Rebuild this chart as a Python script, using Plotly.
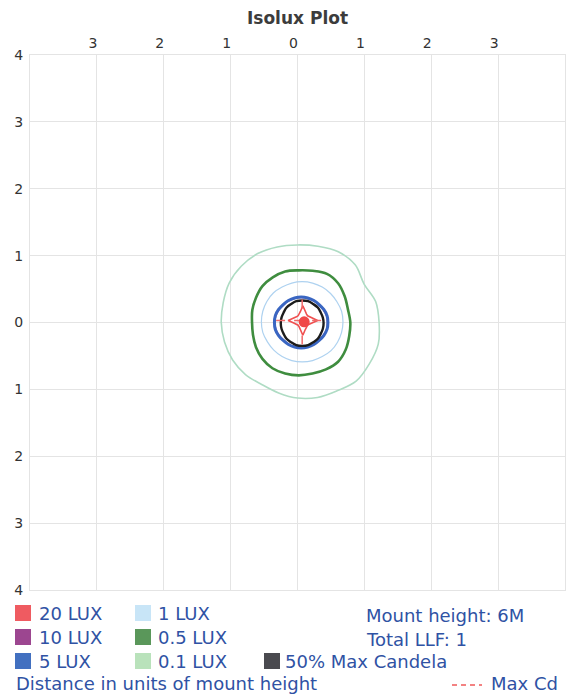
import numpy as np
import plotly.graph_objects as go

# ---------------- data (units of mount height) ----------------
angles_deg = [0, 15, 30, 45, 60, 75, 90, 105, 120, 135, 150, 165,
              180, 195, 210, 225, 240, 255, 270, 285, 300, 315, 330, 345]

lux01_center = (0.0, 0.0)
lux01_radii = [1.22, 1.21, 1.15, 1.22, 1.22, 1.18, 1.16, 1.17, 1.19, 1.19, 1.18, 1.15,
               1.14, 1.13, 1.12, 1.10, 1.07, 1.09, 1.13, 1.16, 1.18, 1.24, 1.24, 1.25]

lux05_center = (0.02, 0.0)
lux05_radii = [0.77, 0.76, 0.79, 0.83, 0.84, 0.80, 0.78, 0.79, 0.78, 0.77, 0.74, 0.72,
               0.70, 0.71, 0.74, 0.77, 0.79, 0.79, 0.79, 0.79, 0.81, 0.83, 0.81, 0.78]

lux1_center = (0.07, 0.01)
lux1_radii = [0.61, 0.61, 0.60, 0.60, 0.60, 0.60, 0.60, 0.60, 0.60, 0.61, 0.61, 0.61,
              0.61, 0.61, 0.60, 0.60, 0.60, 0.60, 0.60, 0.60, 0.60, 0.61, 0.61, 0.61]

lux5_center = (0.055, 0.0)
lux5_radii = [0.40, 0.40, 0.39, 0.38, 0.38, 0.38, 0.38, 0.38, 0.38, 0.38, 0.39, 0.40,
              0.40, 0.40, 0.39, 0.38, 0.38, 0.38, 0.38, 0.38, 0.38, 0.38, 0.39, 0.40]

lux10_center = (0.055, 0.0)
lux10_radii = [0.39, 0.39, 0.38, 0.37, 0.37, 0.37, 0.37, 0.37, 0.37, 0.37, 0.38, 0.39,
               0.39, 0.39, 0.38, 0.37, 0.37, 0.37, 0.37, 0.37, 0.37, 0.37, 0.38, 0.39]

cand50_center = (0.07, -0.01)
cand50_radii = [0.32, 0.32, 0.32, 0.33, 0.33, 0.34, 0.34, 0.34, 0.33, 0.33, 0.32, 0.32,
                0.32, 0.32, 0.32, 0.33, 0.33, 0.34, 0.34, 0.34, 0.33, 0.33, 0.32, 0.32]

lux20_center = (0.08, 0.03)
lux20_radii = [0.22, 0.14, 0.11, 0.10, 0.11, 0.14, 0.22, 0.14, 0.11, 0.10, 0.11, 0.14,
               0.22, 0.14, 0.11, 0.10, 0.11, 0.14, 0.22, 0.14, 0.11, 0.10, 0.11, 0.14]

peak_point = (0.10, 0.01)

maxcd_h_x = [-0.32, 0.45]
maxcd_h_y = [0.03, 0.03]
maxcd_v_x = [0.07, 0.07]
maxcd_v_y = [-0.33, 0.42]

x_tick_vals = [-3, -2, -1, 0, 1, 2, 3]
x_tick_text = ["3", "2", "1", "0", "1", "2", "3"]
y_tick_vals = [-4, -3, -2, -1, 0, 1, 2, 3, 4]
y_tick_text = ["4", "3", "2", "1", "0", "1", "2", "3", "4"]

legend_labels = ["20 LUX", "10 LUX", "5 LUX", "1 LUX", "0.5 LUX", "0.1 LUX", "50% Max Candela"]
legend_colors = ["#ef5b61", "#9c4690", "#4270c0", "#c8e5f7", "#5a975a", "#b9e2bb", "#4a4a4f"]

info_lines = ["Mount height: 6M", "Total LLF: 1"]
footer_text = "Distance in units of mount height"
maxcd_label = "Max Cd"


# ---------------- helpers ----------------
def ring(center, radii, closed=True):
    a = np.radians(angles_deg)
    r = np.array(radii)
    x = center[0] + r * np.cos(a)
    y = center[1] + r * np.sin(a)
    if closed:
        x = np.append(x, x[0])
        y = np.append(y, y[0])
    return x, y


fig = go.Figure()


def add_ring(center, radii, color, width, shape="spline", dash="solid"):
    x, y = ring(center, radii)
    line = dict(color=color, width=width, shape=shape, dash=dash)
    if shape == "spline":
        line["smoothing"] = 1.0
    fig.add_trace(go.Scatter(x=x, y=y, mode="lines", line=line,
                             hoverinfo="skip", showlegend=False))


add_ring(lux01_center, lux01_radii, "#afdcc4", 1.6)
add_ring(lux05_center, lux05_radii, "#3f8d3f", 2.6)
add_ring(lux1_center, lux1_radii, "#aed2f0", 1.2)
add_ring(lux10_center, lux10_radii, "#9c4690", 1.2)
add_ring(lux5_center, lux5_radii, "#3a66c2", 3.0)
add_ring(cand50_center, cand50_radii, "#1c1c1c", 2.4)
add_ring(lux20_center, lux20_radii, "#f05050", 1.6, shape="linear")

fig.add_trace(go.Scatter(x=maxcd_h_x, y=maxcd_h_y, mode="lines",
                         line=dict(color="#f06a6a", width=1.5, dash="dash"),
                         hoverinfo="skip", showlegend=False))
fig.add_trace(go.Scatter(x=maxcd_v_x, y=maxcd_v_y, mode="lines",
                         line=dict(color="#f06a6a", width=1.5, dash="dash"),
                         hoverinfo="skip", showlegend=False))
fig.add_trace(go.Scatter(x=[peak_point[0]], y=[peak_point[1]], mode="markers",
                         marker=dict(color="#f04848", size=11, line=dict(width=0)),
                         hoverinfo="skip", showlegend=False))

# ---------------- layout ----------------
W, H = 568, 699
L, R, T, B = 30, 565, 55, 590


def px(x):
    return (x - L) / (R - L)


def py(y):
    return (B - y) / (B - T)


grid_col = "#e4e4e4"
fig.update_layout(
    width=W, height=H,
    margin=dict(l=L, r=W - R, t=T, b=H - B, pad=0, autoexpand=False),
    paper_bgcolor="white", plot_bgcolor="white",
    showlegend=False,
    title=dict(text="Isolux Plot", x=0.5, xref="paper", y=1 - 18 / H, yref="container",
               xanchor="center", yanchor="middle",
               font=dict(family="DejaVu Sans", size=17, color="#3c3c3c", weight="bold")),
    xaxis=dict(range=[-4, 4], side="top", tickvals=x_tick_vals, ticktext=x_tick_text,
               showgrid=True, gridcolor=grid_col, gridwidth=1, zeroline=False,
               showline=True, linecolor=grid_col, mirror=True, ticks="",
               ticklabelshift=-4, ticklabelstandoff=0, automargin=False,
               tickfont=dict(family="DejaVu Sans", size=14, color="#333333"),
               fixedrange=True),
    yaxis=dict(range=[-4, 4], tickvals=y_tick_vals, ticktext=y_tick_text,
               showgrid=True, gridcolor=grid_col, gridwidth=1, zeroline=False,
               showline=True, linecolor=grid_col, mirror=True, ticks="",
               ticklabelstandoff=3, automargin=False,
               tickfont=dict(family="DejaVu Sans", size=14, color="#333333"),
               fixedrange=True),
)

# ---------------- custom legend ----------------
txt_col = "#2f52a4"
txt_font = dict(family="DejaVu Sans", size=18, color=txt_col)
row_y = [613, 637, 661]
col_sq = [(15, 31), (135, 151), (264, 280)]
col_tx = [37, 156, 283]
slots = [(0, 0), (0, 1), (0, 2), (1, 0), (1, 1), (1, 2), (2, 2)]

shapes = []
annos = []
for label, color, (c, r) in zip(legend_labels, legend_colors, slots):
    x0, x1 = col_sq[c]
    yc = row_y[r]
    shapes.append(dict(type="rect", xref="paper", yref="paper",
                       x0=px(x0), x1=px(x1), y0=py(yc + 8), y1=py(yc - 8),
                       fillcolor=color, line=dict(width=0)))
    annos.append(dict(text=label, xref="paper", yref="paper", x=px(col_tx[c]), y=py(yc),
                      xanchor="left", yanchor="middle", showarrow=False, font=txt_font))

for i, line in enumerate(info_lines):
    annos.append(dict(text=line, xref="paper", yref="paper", x=px(364), y=py(row_y[i] + 2),
                      xanchor="left", yanchor="middle", showarrow=False, font=txt_font))

annos.append(dict(text=footer_text, xref="paper", yref="paper", x=px(14), y=py(684),
                  xanchor="left", yanchor="middle", showarrow=False, font=txt_font))
shapes.append(dict(type="line", xref="paper", yref="paper", x0=px(452), x1=px(482),
                   y0=py(685), y1=py(685),
                   line=dict(color="#f05a5a", width=1.5, dash="5px,4px")))
annos.append(dict(text=maxcd_label, xref="paper", yref="paper", x=px(489), y=py(684),
                  xanchor="left", yanchor="middle", showarrow=False, font=txt_font))

fig.update_layout(shapes=shapes, annotations=annos)

fig.write_html("out.html",
               config={"displayModeBar": False, "staticPlot": True},
               post_script="document.body.style.margin='0px';document.body.style.padding='0px';")
